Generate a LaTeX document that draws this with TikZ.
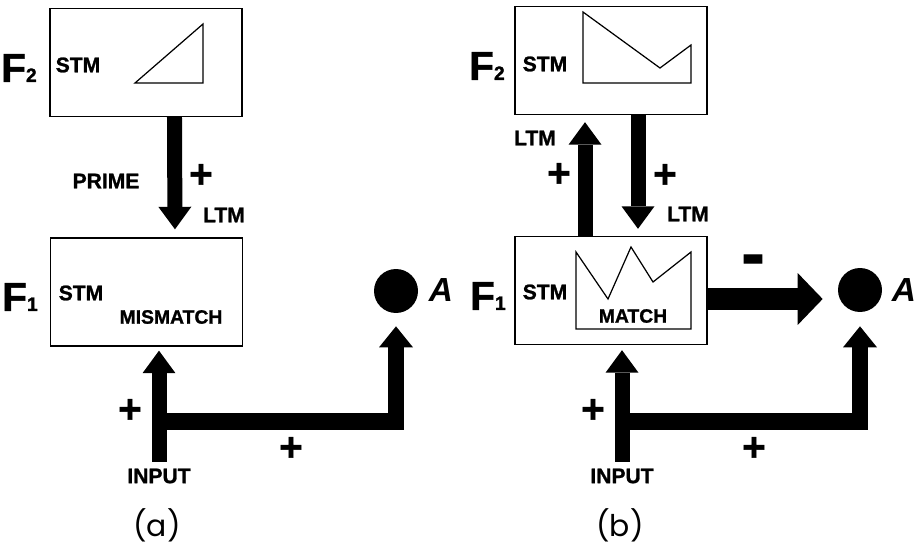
\documentclass[tikz,border=0pt]{standalone}
\usepackage{fontspec}
\setmainfont{Liberation Sans}[BoldFeatures={FakeBold=1.2}]
\newfontfamily\panelfont{Poppins}
\usetikzlibrary{arrows.meta,positioning}
\tikzset{
  layerbox/.style={draw, line width=0.8pt, minimum width=3.84cm, minimum height=2.16cm, inner sep=0pt},
  tag/.style={font=\fontsize{12}{12}\selectfont\bfseries, inner sep=1pt},
  smalltag/.style={font=\fontsize{11}{11}\selectfont\bfseries, inner sep=1pt},
  flabel/.style={font=\fontsize{23}{23}\selectfont\bfseries, inner sep=0pt},
  sign/.style={font=\fontsize{23}{23}\selectfont\bfseries, inner sep=0pt},
  cellname/.style={font=\fontsize{19}{19}\selectfont\bfseries\itshape, inner sep=0pt},
  panel/.style={font=\panelfont\fontsize{17}{17}\selectfont, inner sep=0pt},
  cell/.style={circle, fill=black, minimum size=0.88cm, inner sep=0pt},
  pattern/.style={line width=0.7pt, line join=miter},
  fat/.style={line width=0.3cm, -{Triangle[length=0.45cm, width=0.66cm, line width=0pt]}},
  fatbranch/.style={line width=0.33cm, line join=miter, -{Triangle[length=0.42cm, width=0.68cm, line width=0pt]}},
  wide/.style={line width=0.44cm, -{Triangle[length=0.5cm, width=1.04cm, line width=0pt]}},
}
\newcommand{\layer}[1]{F{\fontsize{11}{11}\selectfont #1}}

\begin{document}
\begin{tikzpicture}[x=0.02cm, y=-0.02cm]
\useasboundingbox (0,0) rectangle (919,547);

% --- panel (a): mismatch ---
\node[layerbox] (F2a) at (146,62.5) {};
\node[layerbox] (F1a) at (146.5,292) {};
\node[flabel] (F2aname) at (19,68) {\layer{2}};
\node[flabel] (F1aname) at (20,297) {\layer{1}};
\node[tag] (S2a) at (78,65) {STM};
\node[tag] (S1a) at (81,293) {STM};
\draw[pattern] (135,83) -- (203,24) -- (203,83) -- cycle;
\node[smalltag] (mis) at (171,317) {MISMATCH};

\node[cell] (Aa) at (396,291) {};
\node[cellname] (Aaname) at (441,290) {A};

% top-down prime
\draw[fat, shorten >=0.16cm] ([xshift=0.57cm]F2a.south) -- ([xshift=0.57cm]F1a.north);
\node[tag] (prime) at (106,181) {PRIME};
\node[sign] (pa1) at (201,176) {+};
\node[tag] (ltma) at (224,215) {LTM};

% bottom-up input
\node[tag] (INa) at (159,476) {INPUT};
\draw[fat, shorten <=0.1cm, shorten >=0.08cm] (INa.north) -- (INa.north |- F1a.south);
\coordinate (ja) at (159.5,421.5);
\draw[fatbranch, shorten >=0.26cm] (ja) -| (Aa.south);
\node[sign] (pa2) at (130,411) {+};
\node[sign] (pa3) at (291,449) {+};
\node[panel] (capa) at (157,525) {(a)};

% --- panel (b): match ---
\node[layerbox] (F2b) at (611,60.5) {};
\node[layerbox] (F1b) at (611,290.5) {};
\node[flabel] (F2bname) at (487,66) {\layer{2}};
\node[flabel] (F1bname) at (488,296) {\layer{1}};
\node[tag] (S2b) at (545,64) {STM};
\node[tag] (S1b) at (545,292) {STM};
\draw[pattern] (583,12) -- (660,68) -- (691,45) -- (691,83) -- (583,83) -- cycle;
\draw[pattern] (576,252) -- (608,299) -- (631,247) -- (653,282) -- (691,252) -- (691,329) -- (576,329) -- cycle;
\node[smalltag] (mat) at (633,316) {MATCH};

\node[cell] (Ab) at (860,290) {};
\node[cellname] (Abname) at (904,290) {A};

% resonant loop
\draw[fat, shorten >=0.14cm] ([xshift=-0.52cm]F1b.north) -- ([xshift=-0.52cm]F2b.south);
\draw[fat, shorten >=0.14cm] ([xshift=0.54cm]F2b.south) -- ([xshift=0.54cm]F1b.north);
\node[tag] (ltmb1) at (535,138) {LTM};
\node[sign] (pb1) at (559,175) {+};
\node[sign] (pb2) at (665,176) {+};
\node[tag] (ltmb2) at (688,214) {LTM};

% inhibition of A
\draw[wide, shorten >=0.3cm] ([yshift=-0.17cm]F1b.east) -- ([yshift=-0.17cm]F1b.east -| Ab.west);
\node[font=\fontsize{40}{40}\selectfont\bfseries, inner sep=0pt] (mb) at (753,266) {-};

% bottom-up input
\node[tag] (INb) at (622,476) {INPUT};
\draw[fat, shorten <=0.1cm, shorten >=0.1cm] (INb.north) -- (INb.north |- F1b.south);
\coordinate (jb) at (622.5,421.5);
\draw[fatbranch, shorten >=0.28cm] (jb) -| (Ab.south);
\node[sign] (pb3) at (593,411) {+};
\node[sign] (pb4) at (754,449) {+};
\node[panel] (capb) at (620,525) {(b)};

\end{tikzpicture}
\end{document}
